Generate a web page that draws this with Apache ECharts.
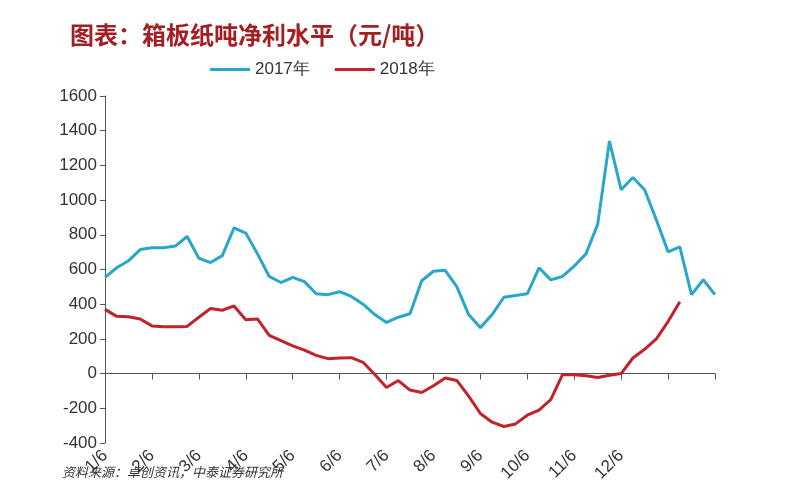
<!DOCTYPE html>
<html><head><meta charset="utf-8">
<script src="https://cdn.jsdelivr.net/npm/echarts@6/dist/echarts.min.js"></script>
<style>html,body{margin:0;padding:0;background:#fff}#c{width:800px;height:500px}</style>
</head><body><div id="c"></div>
<script>
const monthLabels = ['1/6','2/6','3/6','4/6','5/6','6/6','7/6','8/6','9/6','10/6','11/6','12/6'];
const s2017 = [555,610,650,715,725,725,735,790,665,640,680,840,810,690,560,525,555,530,460,455,472,445,400,340,295,325,345,535,590,595,500,340,265,340,440,450,460,610,540,560,620,690,860,1340,1060,1130,1060,886,702,731,455,541,455];
const s2018 = [370,330,328,315,275,270,270,272,325,375,365,390,310,315,220,190,160,135,105,86,90,92,65,-5,-80,-40,-95,-109,-70,-25,-40,-130,-230,-280,-305,-290,-240,-210,-150,-6,-6,-12,-23,-10,0,90,140,200,300,414,null,null,null];
const cats = s2017.map((v,i)=> i%4===0 && i/4<monthLabels.length ? monthLabels[i/4] : '');
const chart = echarts.init(document.getElementById('c'));
chart.setOption({
  animation:false,
  title:{text:'图表：箱板纸吨净利水平（元/吨）',left:65,top:18,textStyle:{color:'#a31f24',fontSize:24,fontWeight:'bold',fontFamily:'Noto Sans CJK SC'}},
  legend:{top:56,left:205,itemWidth:40,itemHeight:3,icon:'rect',itemGap:25,textStyle:{fontSize:17,color:'#333'},data:['2017年','2018年']},
  graphic:[{type:'text',left:62,top:466,style:{text:'资料来源：卓创资讯，中泰证券研究所',font:'italic 13px "Noto Sans CJK SC"',fill:'#333'}}],
  grid:{left:105,right:85,top:96,bottom:57},
  xAxis:{type:'category',data:cats,boundaryGap:false,
    axisLine:{onZero:true,lineStyle:{color:'#555'}},
    axisTick:{show:true,interval:(i)=>i%4===0,length:6,inside:false,lineStyle:{color:'#555'}},
    axisLabel:{interval:(i)=>i%4===0,rotate:45,fontSize:17,color:'#333',margin:10}},
  yAxis:{type:'value',min:-400,max:1600,interval:200,
    axisLine:{show:true,lineStyle:{color:'#555'}},axisTick:{show:true,lineStyle:{color:'#555'}},
    splitLine:{show:false},axisLabel:{fontSize:17,color:'#333',formatter:(v)=>String(v)}},
  series:[
    {name:'2017年',type:'line',data:s2017,symbol:'none',lineStyle:{color:'#28a7c9',width:3},itemStyle:{color:'#28a7c9'}},
    {name:'2018年',type:'line',data:s2018,symbol:'none',lineStyle:{color:'#c0242a',width:3},itemStyle:{color:'#c0242a'}}
  ]
});
</script></body></html>
